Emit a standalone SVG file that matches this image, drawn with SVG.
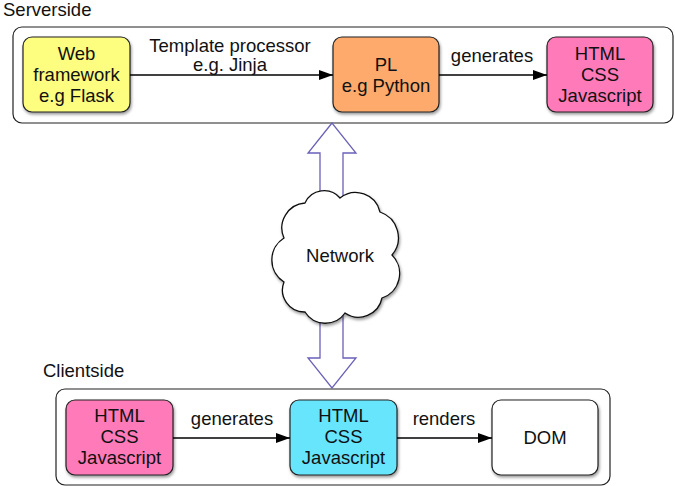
<svg xmlns="http://www.w3.org/2000/svg" width="675" height="486" viewBox="0 0 675 486">
<defs>
<style>
text{font-family:"Liberation Sans",Arial,sans-serif;font-size:18.5px;fill:#111;text-anchor:middle}
.lbl{text-anchor:start}
.cont{fill:#fff;stroke:#222;stroke-width:1.2}
.box{stroke:#222;stroke-width:1.2;filter:url(#sh)}
.conn{stroke:#000;stroke-width:1.3;fill:none;marker-end:url(#ah)}
</style>
<filter id="sh" x="-20%" y="-20%" width="140%" height="140%">
<feDropShadow dx="1" dy="2" stdDeviation="1.5" flood-color="#000" flood-opacity="0.4"/>
</filter>
<marker id="ah" markerWidth="14" markerHeight="10" refX="14" refY="5" orient="auto" markerUnits="userSpaceOnUse">
<path d="M0,0 L14,5 L0,10 z" fill="#000"/>
</marker>
</defs>
<rect width="675" height="486" fill="#fff"/>

<g id="serverside">
<text class="lbl" x="3" y="16">Serverside</text>
<rect class="cont" x="13" y="27" width="660" height="96" rx="9"/>
</g>
<g id="clientside">
<text class="lbl" x="43" y="377">Clientside</text>
<rect class="cont" x="56" y="389" width="554" height="96" rx="9"/>
</g>

<g id="network-arrow">
<path d="M332,123 L308,153 L320,153 L320,358 L308,358 L332,388 L356,358 L343,358 L343,153 L356,153 Z" fill="#fff" stroke="#6a60b8" stroke-width="1.3"/>
</g>

<g id="network">
<path d="M284,238 A25,25 0 0 1 305,203 A21,21 0 0 1 340,198 A25,25 0 0 1 380,212 A27,27 0 0 1 392,255 A26,26 0 0 1 382,298 A24,24 0 0 1 345,313 A24,24 0 0 1 305,312 A22,22 0 0 1 284,282 A26,26 0 0 1 284,238 Z" fill="#fff" stroke="#111" stroke-width="1.3" filter="url(#sh)"/>
<text x="340" y="262">Network</text>
</g>

<g id="web">
<rect class="box" x="23" y="37" width="107" height="75" rx="9" fill="#fdfd80"/>
<text x="76.5" y="60">Web</text>
<text x="76.5" y="81">framework</text>
<text x="76.5" y="102">e.g Flask</text>
</g>
<g id="pl">
<rect class="box" x="333" y="37" width="106" height="75" rx="9" fill="#fdaa6c"/>
<text x="386" y="71">PL</text>
<text x="386" y="92">e.g Python</text>
</g>
<g id="html-server">
<rect class="box" x="547" y="37" width="106" height="75" rx="9" fill="#ff7ab8"/>
<text x="600" y="60">HTML</text>
<text x="600" y="81">CSS</text>
<text x="600" y="102">Javascript</text>
</g>
<g id="html-client1">
<rect class="box" x="66" y="400" width="107" height="75" rx="9" fill="#ff7ab8"/>
<text x="119.5" y="422">HTML</text>
<text x="119.5" y="443">CSS</text>
<text x="119.5" y="464">Javascript</text>
</g>
<g id="html-client2">
<rect class="box" x="290" y="400" width="107" height="75" rx="9" fill="#66e5fd"/>
<text x="343.5" y="422">HTML</text>
<text x="343.5" y="443">CSS</text>
<text x="343.5" y="464">Javascript</text>
</g>
<g id="dom">
<rect class="box" x="492" y="400" width="106" height="75" rx="9" fill="#fff"/>
<text x="545" y="444">DOM</text>
</g>

<g id="connectors">
<line class="conn" x1="130" y1="75" x2="333" y2="75"/>
<text x="230" y="52">Template processor</text>
<text x="230" y="71">e.g. Jinja</text>
<line class="conn" x1="439" y1="75" x2="547" y2="75"/>
<text x="492" y="62">generates</text>
<line class="conn" x1="173" y1="438" x2="290" y2="438"/>
<text x="232" y="425">generates</text>
<line class="conn" x1="397" y1="438" x2="492" y2="438"/>
<text x="444" y="425">renders</text>
</g>
</svg>
